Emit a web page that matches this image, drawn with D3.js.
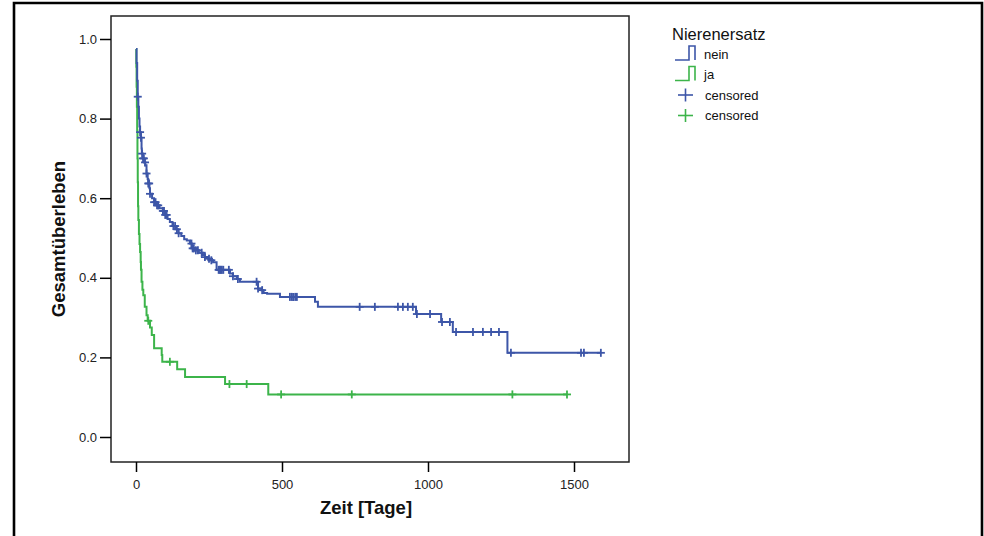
<!DOCTYPE html>
<html>
<head>
<meta charset="utf-8">
<script src="https://cdn.jsdelivr.net/npm/d3@7"></script>
<style>
  html, body { margin: 0; padding: 0; background: #fff; }
  svg { display: block; font-family: "Liberation Sans", Arial, sans-serif; }
</style>
</head>
<body>
<svg id="chart" width="984" height="536"></svg>
<script>
// ---- data ----
const xTicks = [0, 500, 1000, 1500];
const yTicks = [0.0, 0.2, 0.4, 0.6, 0.8, 1.0];

const groups = ["nein", "ja"];
const legendTitle = "Nierenersatz";
const censoredLabel = "censored";
const xTitle = "Zeit [Tage]";
const yTitle = "Gesamtüberleben";

// nein: step times and survival after each step
const neinTimes = [0, 2, 4, 6, 8, 10, 12, 14, 17, 19, 20, 23, 28, 32, 36, 40, 42, 46, 48, 55, 62, 70, 80, 92, 100, 108, 116, 125, 135, 145, 155, 165, 174, 185, 191, 200, 215, 229, 236, 247, 253, 264, 276, 322, 332, 346, 356, 418, 430, 437, 449, 493, 613, 623, 959, 1045, 1085, 1272];
const neinSurv  = [0.975, 0.94, 0.895, 0.855, 0.83, 0.80, 0.78, 0.766, 0.752, 0.725, 0.712, 0.70, 0.69, 0.683, 0.662, 0.648, 0.637, 0.625, 0.611, 0.60, 0.59, 0.582, 0.575, 0.568, 0.558, 0.548, 0.54, 0.53, 0.522, 0.512, 0.505, 0.497, 0.494, 0.486, 0.474, 0.469, 0.463, 0.457, 0.452, 0.448, 0.444, 0.439, 0.42, 0.411, 0.404, 0.397, 0.39, 0.373, 0.369, 0.362, 0.36, 0.352, 0.34, 0.327, 0.309, 0.289, 0.264, 0.2115];
const neinEnd = 1592;
const neinCensored = [6, 14, 17, 21, 24, 27, 31, 36, 42, 45, 48, 62, 67, 72, 76, 92, 96, 100, 105, 128, 134, 140, 146, 190, 194, 198, 205, 212, 225, 236, 250, 258, 283, 287, 290, 294, 299, 318, 332, 349, 413, 418, 432, 527, 533, 538, 545, 551, 766, 818, 897, 914, 931, 948, 962, 1007, 1048, 1075, 1096, 1154, 1188, 1216, 1243, 1284, 1524, 1534, 1592];

// ja
const jaTimes = [0, 1, 2, 3, 4, 5, 6, 7, 8, 10, 12, 14, 16, 17, 19, 22, 25, 30, 36, 40, 48, 54, 62, 88, 90, 141, 168, 305, 453];
const jaSurv  = [0.975, 0.93, 0.88, 0.83, 0.77, 0.70, 0.64, 0.58, 0.545, 0.51, 0.485, 0.465, 0.44, 0.42, 0.39, 0.37, 0.356, 0.327, 0.306, 0.292, 0.275, 0.256, 0.223, 0.206, 0.189, 0.17, 0.151, 0.133, 0.107];
const jaEnd = 1476;
const jaCensored = [42, 116, 320, 379, 497, 739, 1289, 1476];

const colors = { nein: "#3d56a8", ja: "#3cb44a" };

// ---- layout ----
const svg = d3.select("#chart");
const plot = { left: 111, top: 16, right: 629, bottom: 462 };

const x = d3.scaleLinear().domain([0, 1500]).range([136, 574]);
const y = d3.scaleLinear().domain([0, 1]).range([437, 39]);

// outer frame
svg.append("path")
  .attr("d", "M14,545 V3 H982 V545")
  .attr("fill", "none").attr("stroke", "#000").attr("stroke-width", 2.6);

// plot box
svg.append("rect")
  .attr("x", plot.left).attr("y", plot.top)
  .attr("width", plot.right - plot.left).attr("height", plot.bottom - plot.top)
  .attr("fill", "none").attr("stroke", "#222").attr("stroke-width", 1.5);

// y axis
const yAxis = d3.axisLeft(y).tickValues(yTicks).tickFormat(d3.format(".1f")).tickSize(11).tickPadding(3);
const gy = svg.append("g").attr("transform", `translate(${plot.left},0)`).call(yAxis);
gy.select(".domain").remove();
gy.selectAll(".tick line").attr("stroke", "#000").attr("stroke-width", 1.5);
gy.selectAll(".tick text").attr("font-size", 13).attr("fill", "#222")
  .attr("font-family", '"Liberation Sans", Arial, sans-serif');

// x axis
const xAxis = d3.axisBottom(x).tickValues(xTicks).tickFormat(d3.format("d")).tickSize(10).tickPadding(8);
const gx = svg.append("g").attr("transform", `translate(0,${plot.bottom})`).call(xAxis);
gx.select(".domain").remove();
gx.selectAll(".tick line").attr("stroke", "#000").attr("stroke-width", 1.5);
gx.selectAll(".tick text").attr("font-size", 13).attr("fill", "#222")
  .attr("font-family", '"Liberation Sans", Arial, sans-serif');

// axis titles
svg.append("text")
  .attr("x", (plot.left + plot.right) / 2 - 4).attr("y", 514)
  .attr("text-anchor", "middle").attr("font-size", 18.5).attr("font-weight", "bold")
  .attr("fill", "#111").text(xTitle);
svg.append("text")
  .attr("transform", `translate(65,${(plot.top + plot.bottom) / 2}) rotate(-90)`)
  .attr("text-anchor", "middle").attr("font-size", 18.5).attr("font-weight", "bold")
  .attr("fill", "#111").text(yTitle);

// ---- curves ----
function survAt(times, surv, t) {
  let s = surv[0];
  for (let i = 0; i < times.length; i++) { if (times[i] <= t) s = surv[i]; else break; }
  return s;
}
const line = d3.line().x(d => x(d[0])).y(d => y(d[1])).curve(d3.curveStepAfter);

const series = [
  { key: "nein", times: neinTimes, surv: neinSurv, end: neinEnd, cens: neinCensored },
  { key: "ja", times: jaTimes, surv: jaSurv, end: jaEnd, cens: jaCensored }
];

series.slice().reverse().forEach(s => {
  const pts = s.times.map((t, i) => [t, s.surv[i]]);
  pts.push([s.end, s.surv[s.surv.length - 1]]);
  svg.append("path").datum(pts).attr("d", line)
    .attr("fill", "none").attr("stroke", colors[s.key]).attr("stroke-width", 2);
  const g = svg.append("g").attr("stroke", colors[s.key]).attr("stroke-width", 1.8);
  s.cens.forEach(t => {
    const cx = x(t), cy = y(survAt(s.times, s.surv, t));
    g.append("line").attr("x1", cx - 4).attr("x2", cx + 4).attr("y1", cy).attr("y2", cy);
    g.append("line").attr("x1", cx).attr("x2", cx).attr("y1", cy - 4).attr("y2", cy + 4);
  });
});

// ---- legend ----
const lg = svg.append("g");
lg.append("text").attr("x", 672).attr("y", 40).attr("font-size", 16.5).attr("fill", "#111").text(legendTitle);
groups.forEach((k, i) => {
  const cy = 54 + i * 20.5;
  lg.append("path")
    .attr("d", `M675,${cy + 6} H689 V${cy - 8} H695 V${cy + 6}`)
    .attr("fill", "none").attr("stroke", colors[k]).attr("stroke-width", 1.6);
  lg.append("text").attr("x", 704).attr("y", cy + 4.5).attr("font-size", 13).attr("fill", "#111").text(k);
});
groups.forEach((k, i) => {
  const cy = 95 + i * 20.5;
  lg.append("line").attr("x1", 678).attr("x2", 693).attr("y1", cy).attr("y2", cy)
    .attr("stroke", colors[k]).attr("stroke-width", 1.6);
  lg.append("line").attr("x1", 685.5).attr("x2", 685.5).attr("y1", cy - 6.5).attr("y2", cy + 6.5)
    .attr("stroke", colors[k]).attr("stroke-width", 1.6);
  lg.append("text").attr("x", 705).attr("y", cy + 4.5).attr("font-size", 13).attr("fill", "#111").text(censoredLabel);
});
</script>
</body>
</html>
